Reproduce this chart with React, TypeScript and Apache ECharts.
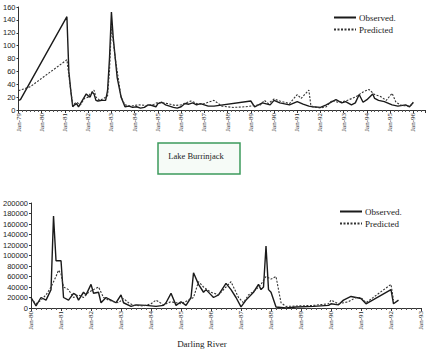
import React, { useEffect, useRef } from "react";
import * as echarts from "echarts";

// ---------- Lake Burrinjack (top) ----------
const topObsDates = [
  "1979-01", "1979-02", "1981-02", "1981-03", "1981-04", "1981-05", "1981-06", "1981-07", "1981-08", "1981-09",
  "1981-10", "1981-11", "1981-12", "1982-01", "1982-02", "1982-03", "1982-04", "1982-05", "1982-06", "1982-08",
  "1982-10", "1982-11", "1982-12", "1983-01", "1983-02", "1983-04", "1983-06", "1983-08", "1983-10", "1983-12",
  "1984-02", "1984-04", "1984-06", "1984-08", "1984-10", "1984-12", "1985-01", "1985-03", "1985-05", "1985-07",
  "1985-09", "1985-11", "1986-01", "1986-03", "1986-05", "1986-07", "1986-09", "1986-11", "1987-01", "1987-03",
  "1987-06", "1989-01", "1989-03", "1989-07", "1989-11", "1990-01", "1990-04", "1990-09", "1991-01", "1991-04",
  "1991-07", "1991-09", "1992-01", "1992-04", "1992-07", "1992-09", "1992-12", "1993-02", "1993-05", "1993-07",
  "1993-09", "1993-11", "1994-01", "1994-04", "1994-05", "1994-07", "1994-10", "1995-02", "1995-05", "1995-09",
  "1995-11", "1996-01",
];
const topObsValues = [
  15, 16, 145, 60, 30, 5, 8, 10, 5, 10,
  15, 20, 25, 22, 20, 28, 25, 15, 14, 15,
  15, 30, 80, 152, 110, 50, 20, 5, 6, 4,
  5, 3, 4, 8, 7, 5, 10, 12, 8, 6,
  4, 3, 5, 10, 9, 11, 8, 10, 8, 6,
  6, 14, 5, 11, 8, 15, 11, 8, 13, 9,
  6, 5, 4, 8, 13, 16, 11, 13, 8, 11,
  24, 12, 16, 25, 18, 15, 13, 8, 6, 8,
  5, 12,
];
const topPredDates = [
  "1979-01", "1979-07", "1981-02", "1981-04", "1981-05", "1981-07", "1981-09", "1981-11", "1982-01", "1982-02",
  "1982-04", "1982-05", "1982-07", "1982-09", "1982-11", "1982-12", "1983-01", "1983-03", "1983-06", "1983-08",
  "1983-11", "1984-03", "1984-07", "1984-11", "1985-01", "1985-06", "1985-10", "1986-01", "1986-06", "1986-10",
  "1987-01", "1987-06", "1987-10", "1988-04", "1988-10", "1989-06", "1989-08", "1989-10", "1990-01", "1990-04",
  "1990-09", "1991-01", "1991-03", "1991-07", "1991-08", "1991-09", "1992-01", "1992-04", "1992-07", "1992-10",
  "1993-02", "1993-07", "1993-11", "1994-02", "1994-05", "1994-08", "1994-11", "1995-02", "1995-04", "1995-07",
  "1995-11", "1996-01",
];
const topPredValues = [
  30, 36, 78, 30, 8, 12, 8, 18, 20, 25,
  31, 20, 15, 18, 22, 60, 130, 80, 20, 8,
  6, 8, 7, 9, 12, 10, 7, 8, 14, 9,
  10, 15, 6, 4, 5, 8, 15, 10, 17, 14,
  10, 24, 18, 31, 8, 5, 3, 5, 15, 12,
  14, 20, 28, 32, 24, 21, 15, 26, 12, 7,
  6, 10,
];

// ---------- Darling River (bottom) ----------
const botObsDates = [
  "1980-01", "1980-03", "1980-05", "1980-07", "1980-08", "1980-09", "1980-10", "1980-11", "1981-01", "1981-02",
  "1981-04", "1981-06", "1981-07", "1981-08", "1981-10", "1981-11", "1982-01", "1982-02", "1982-04", "1982-05",
  "1982-07", "1982-09", "1982-11", "1983-01", "1983-02", "1983-05", "1983-07", "1983-11", "1984-03", "1984-06",
  "1984-07", "1984-09", "1984-11", "1985-01", "1985-03", "1985-05", "1985-06", "1985-08", "1985-10", "1985-11",
  "1986-01", "1986-02", "1986-04", "1986-07", "1986-09", "1986-11", "1987-01", "1987-03", "1987-06", "1987-08",
  "1987-09", "1987-10", "1987-11", "1987-12", "1988-01", "1988-03", "1988-07", "1988-11", "1989-06", "1989-12",
  "1990-01", "1990-04", "1990-06", "1990-09", "1991-01", "1991-03", "1992-01", "1992-02", "1992-04",
];
const botObsValues = [
  20000, 4000, 20000, 15000, 25000, 35000, 175000, 90000, 90000, 20000,
  15000, 28000, 25000, 15000, 30000, 25000, 45000, 28000, 30000, 10000,
  20000, 15000, 10000, 25000, 10000, 3000, 6000, 5000, 3000, 5000,
  10000, 28000, 5000, 12000, 5000, 20000, 67000, 45000, 30000, 35000,
  25000, 20000, 25000, 47000, 35000, 20000, 2000, 15000, 30000, 45000,
  35000, 40000, 118000, 35000, 30000, 2000, 0, 2000, 3000, 5000,
  8000, 6000, 15000, 22000, 18000, 8000, 35000, 8000, 15000,
];
const botPredDates = [
  "1980-01", "1980-03", "1980-05", "1980-07", "1980-09", "1980-11", "1980-12", "1981-01", "1981-02", "1981-04",
  "1981-06", "1981-08", "1981-10", "1981-12", "1982-02", "1982-04", "1982-06", "1982-08", "1982-10", "1982-12",
  "1983-02", "1983-04", "1983-06", "1983-10", "1984-01", "1984-03", "1984-06", "1984-09", "1985-01", "1985-04",
  "1985-06", "1985-08", "1985-10", "1986-01", "1986-04", "1986-07", "1986-09", "1986-12", "1987-02", "1987-04",
  "1987-07", "1987-09", "1987-11", "1988-01", "1988-03", "1988-05", "1988-07", "1989-06", "1989-12", "1990-01",
  "1990-04", "1990-08", "1990-11", "1991-01", "1991-03", "1992-01", "1992-02",
];
const botPredValues = [
  18000, 8000, 15000, 25000, 40000, 60000, 72000, 65000, 40000, 35000,
  20000, 25000, 20000, 30000, 35000, 40000, 20000, 15000, 12000, 10000,
  18000, 10000, 5000, 4000, 8000, 15000, 6000, 12000, 8000, 15000,
  20000, 50000, 40000, 30000, 25000, 40000, 50000, 20000, 10000, 25000,
  35000, 45000, 60000, 55000, 60000, 10000, 3000, 5000, 8000, 15000,
  8000, 12000, 20000, 20000, 10000, 45000, 15000,
];

const topYTicks = [0, 20, 40, 60, 80, 100, 120, 140, 160];
const botYTicks = [0, 20000, 40000, 60000, 80000, 100000, 120000, 140000, 160000, 180000, 200000];
const topYears = { min: 1979, max: 1996.5 };
const botYears = { min: 1980, max: 1993 };
const legendNames = ["Observed.", "Predicted"];

const toYear = (d: string) => {
  const [y, m] = d.split("-").map(Number);
  return y + (m - 1) / 12;
};
const pairs = (dates: string[], vals: number[]) => dates.map((d, i) => [toYear(d), vals[i]]);
const yearLabel = (v: number) => {
  if (Math.abs(v - Math.round(v)) > 1e-6) return "";
  return "Jan-" + String(Math.round(v)).slice(2);
};

const SERIF = "'Liberation Serif', 'DejaVu Serif', serif";
const SANS = "'Liberation Sans', Arial, sans-serif";

export default function App() {
  const ref = useRef<HTMLDivElement>(null);
  useEffect(() => {
    if (!ref.current) return;
    const chart = echarts.init(ref.current, undefined, { renderer: "svg" });

    const xAxisBase = (gridIndex: number, range: { min: number; max: number }) => ({
      type: "value",
      gridIndex,
      min: range.min,
      max: range.max,
      interval: 1,
      splitLine: { show: false },
      axisLine: { show: true, lineStyle: { color: "#333", width: 1 } },
      axisTick: { show: true, length: 3, inside: false, lineStyle: { color: "#333" } },
      minorTick: { show: true, splitNumber: 6, length: 2, lineStyle: { color: "#555" } },
      axisLabel: {
        rotate: 90,
        fontSize: 7,
        fontFamily: SERIF,
        color: "#222",
        margin: 3,
        formatter: yearLabel,
        showMaxLabel: true,
      },
    });
    const yAxisBase = (gridIndex: number, ticks: number[]) => ({
      type: "value",
      gridIndex,
      min: ticks[0],
      max: ticks[ticks.length - 1],
      interval: ticks[1] - ticks[0],
      splitLine: { show: false },
      axisLine: { show: true, lineStyle: { color: "#333", width: 1 } },
      axisTick: { show: true, length: 2, lineStyle: { color: "#333" } },
      axisLabel: {
        fontSize: 7.5, fontFamily: SANS, color: "#222", margin: 3,
        formatter: (v: number) => String(v),
      },
    });

    const obsStyle = { color: "#1a1a1a", width: 1.4, type: "solid" };
    const predStyle = { color: "#333", width: 1.1, type: [2, 1.5] };

    const legendBase = (left: number, top: number) => ({
      left, top, orient: "vertical", itemWidth: 22, itemHeight: 10, itemGap: 3,
      data: legendNames,
      itemStyle: { opacity: 0 },
      textStyle: { fontFamily: SERIF, fontSize: 9, color: "#222", padding: [0, 0, 0, -2] },
    });

    chart.setOption({
      animation: false,
      backgroundColor: "#ffffff",
      grid: [
        { left: 17, top: 7, width: 408, height: 103 },
        { left: 31, top: 203, width: 390, height: 105 },
      ],
      xAxis: [xAxisBase(0, topYears), xAxisBase(1, botYears)],
      yAxis: [yAxisBase(0, topYTicks), yAxisBase(1, botYTicks)],
      legend: [legendBase(328, 8), legendBase(334, 202)],
      title: [
        {
          text: "Darling River",
          left: 202,
          top: 339,
          padding: 0,
          textAlign: "center",
          textStyle: { fontFamily: SERIF, fontSize: 9, fontWeight: "normal", color: "#222" },
        },
      ],
      graphic: [
        {
          type: "rect",
          shape: { x: 158, y: 143, width: 82, height: 31 },
          style: { fill: "#f6fbf7", stroke: "#3c9a5c", lineWidth: 1.5 },
        },
        {
          type: "text",
          x: 196,
          y: 156,
          style: {
            text: "Lake Burrinjack",
            fontFamily: SERIF,
            fontSize: 8.5,
            fill: "#222",
            align: "center",
            verticalAlign: "middle",
          },
        },
      ],
      series: [
        {
          name: "Observed.", type: "line", xAxisIndex: 0, yAxisIndex: 0,
          data: pairs(topObsDates, topObsValues), symbol: "none", lineStyle: obsStyle, itemStyle: { color: "#1a1a1a" },
        },
        {
          name: "Predicted", type: "line", xAxisIndex: 0, yAxisIndex: 0,
          data: pairs(topPredDates, topPredValues), symbol: "none", lineStyle: predStyle, itemStyle: { color: "#333" },
        },
        {
          name: "Observed.", type: "line", xAxisIndex: 1, yAxisIndex: 1,
          data: pairs(botObsDates, botObsValues), symbol: "none", lineStyle: obsStyle, itemStyle: { color: "#1a1a1a" },
        },
        {
          name: "Predicted", type: "line", xAxisIndex: 1, yAxisIndex: 1,
          data: pairs(botPredDates, botPredValues), symbol: "none", lineStyle: predStyle, itemStyle: { color: "#333" },
        },
      ],
    });
    return () => chart.dispose();
  }, []);

  return (
    <div
      ref={ref}
      style={{ position: "fixed", left: 0, top: 0, width: 426, height: 352, background: "#fff" }}
    />
  );
}
